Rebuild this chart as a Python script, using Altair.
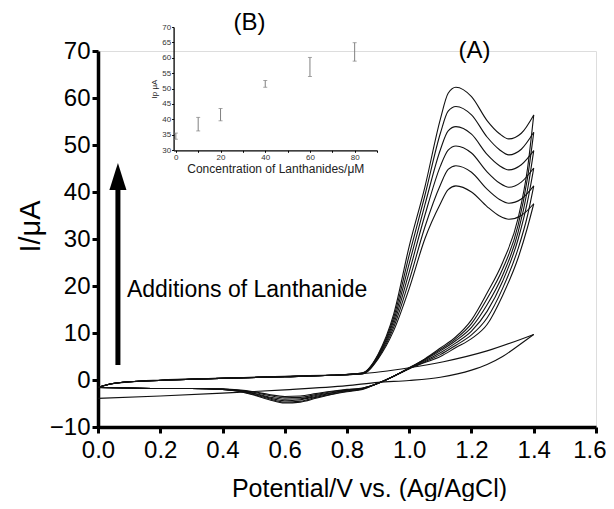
import altair as alt
import pandas as pd

FONT = "Liberation Sans"

# ---------------- main panel (A): cyclic voltammograms ----------------
FWD_V = [0.0, 0.03, 0.08, 0.15, 0.3, 0.45, 0.6, 0.75, 0.85, 0.9, 0.95, 1.0, 1.05,
         1.1, 1.125, 1.15, 1.2, 1.25, 1.29, 1.32, 1.36, 1.4]
FWD_1 = [-1.6, -1.0, -0.5, -0.2, 0.15, 0.45, 0.7, 1.0, 1.3, 4.5, 10.5, 19.5, 30.0,
         37.5, 40.5, 41.3, 40.0, 36.9, 34.9, 34.2, 35.0, 37.5]
FWD_2 = [-1.6, -1.0, -0.5, -0.2, 0.15, 0.45, 0.7, 1.0, 1.35, 4.7, 11.2, 21.2, 32.5,
         41.5, 44.8, 45.6, 44.2, 40.6, 38.4, 37.6, 38.5, 41.3]
FWD_3 = [-1.6, -1.0, -0.5, -0.2, 0.15, 0.45, 0.7, 1.0, 1.4, 4.9, 11.9, 23.0, 35.0,
         45.5, 48.9, 49.8, 48.3, 44.3, 41.9, 41.0, 42.1, 45.1]
FWD_4 = [-1.6, -1.0, -0.5, -0.2, 0.15, 0.45, 0.7, 1.0, 1.45, 5.1, 12.6, 24.8, 37.2,
         49.0, 53.0, 53.9, 52.3, 48.0, 45.6, 44.7, 45.8, 48.8]
FWD_5 = [-1.6, -1.0, -0.5, -0.2, 0.15, 0.45, 0.7, 1.0, 1.5, 5.3, 13.3, 26.6, 39.2,
         52.5, 57.2, 58.2, 56.4, 51.7, 49.0, 47.9, 49.1, 52.7]
FWD_6 = [-1.6, -1.0, -0.5, -0.2, 0.15, 0.45, 0.7, 1.0, 1.55, 5.5, 14.0, 28.5, 41.0,
         55.5, 61.0, 62.3, 60.3, 55.2, 52.4, 51.3, 52.5, 56.4]

REV_V = [1.4, 1.38, 1.35, 1.3, 1.25, 1.2, 1.15, 1.1, 1.05, 1.0, 0.95, 0.9, 0.85,
         0.8, 0.75, 0.7, 0.65, 0.6, 0.55, 0.5, 0.45, 0.4, 0.3, 0.2, 0.1, 0.0]
REV_1 = [37.5, 32.5, 26.0, 18.0, 11.8, 8.8, 6.9, 5.0, 3.7, 2.4, 0.8, -0.7, -1.7,
         -2.0, -2.4, -2.9, -3.4, -3.5, -3.1, -2.5, -2.1, -1.9, -1.8, -1.8, -1.7, -1.6]
REV_2 = [41.3, 35.0, 28.0, 19.5, 13.2, 9.6, 7.4, 5.4, 3.9, 2.4, 0.8, -0.7, -1.75,
         -2.1, -2.5, -3.1, -3.7, -3.8, -3.3, -2.6, -2.2, -1.95, -1.8, -1.8, -1.7, -1.6]
REV_3 = [45.1, 38.0, 30.0, 21.0, 14.6, 10.4, 7.9, 5.8, 4.1, 2.5, 0.8, -0.7, -1.8,
         -2.2, -2.7, -3.3, -4.0, -4.1, -3.6, -2.8, -2.25, -1.95, -1.8, -1.8, -1.7, -1.6]
REV_4 = [48.8, 40.5, 31.5, 22.3, 16.0, 11.2, 8.4, 6.2, 4.3, 2.5, 0.8, -0.7, -1.85,
         -2.3, -2.8, -3.5, -4.2, -4.4, -3.8, -2.9, -2.3, -2.0, -1.8, -1.8, -1.7, -1.6]
REV_5 = [52.7, 43.0, 33.0, 23.6, 17.3, 12.0, 8.8, 6.5, 4.4, 2.6, 0.8, -0.7, -1.9,
         -2.4, -3.0, -3.7, -4.5, -4.7, -4.0, -3.1, -2.35, -2.0, -1.8, -1.8, -1.7, -1.6]
REV_6 = [56.4, 45.0, 34.5, 25.0, 18.5, 12.8, 9.2, 6.8, 4.5, 2.6, 0.8, -0.7, -2.0,
         -2.5, -3.1, -3.9, -4.7, -4.9, -4.2, -3.2, -2.4, -2.0, -1.8, -1.8, -1.7, -1.6]

BLANK_FWD_V = [0.0, 0.03, 0.1, 0.2, 0.4, 0.6, 0.84, 1.0, 1.11, 1.25, 1.4]
BLANK_FWD_I = [-1.6, -1.0, -0.4, 0.0, 0.4, 0.8, 1.3, 2.6, 3.9, 6.2, 9.7]
BLANK_REV_V = [1.4, 1.35, 1.3, 1.25, 1.2, 1.1, 1.0, 0.9, 0.8, 0.6, 0.4, 0.2, 0.0]
BLANK_REV_I = [9.7, 7.3, 5.0, 3.3, 2.1, 0.6, -0.1, -0.5, -1.2, -2.1, -2.8, -3.4, -3.9]

X_TICKS = [0.0, 0.1, 0.2, 0.3, 0.4, 0.5, 0.6, 0.7, 0.8, 0.9, 1.0, 1.1, 1.2, 1.3,
           1.4, 1.5, 1.6]
Y_TICKS = [-10, -5, 0, 5, 10, 15, 20, 25, 30, 35, 40, 45, 50, 55, 60, 65, 70]

# annotations (data coordinates of panel A)
ARROW_V = 0.064
ARROW_BOTTOM = 3.2
ARROW_TOP = 41.0
ARROW_HEAD = 43.3
LABEL_TEXT = "Additions of Lanthanide"
LABEL_POS = (0.093, 17.7)
A_POS = (1.21, 68.6)
B_POS = (0.487, 74.5)

# ---------------- inset (B) ----------------
B_CONC = [0, 10, 20, 40, 60, 80]
B_MEAN = [34.5, 38.4, 41.5, 51.5, 57.0, 61.9]
B_ERR = [1.0, 2.2, 2.0, 1.1, 3.1, 3.0]
B_XTICKS = [0, 10, 20, 30, 40, 50, 60, 70, 80, 90]
B_YTICKS = [30, 35, 40, 45, 50, 55, 60, 65, 70]

# ---------------- build tables ----------------
series = [
    ("f1", FWD_V, FWD_1), ("f2", FWD_V, FWD_2), ("f3", FWD_V, FWD_3),
    ("f4", FWD_V, FWD_4), ("f5", FWD_V, FWD_5), ("f6", FWD_V, FWD_6),
    ("r1", REV_V, REV_1), ("r2", REV_V, REV_2), ("r3", REV_V, REV_3),
    ("r4", REV_V, REV_4), ("r5", REV_V, REV_5), ("r6", REV_V, REV_6),
    ("bf", BLANK_FWD_V, BLANK_FWD_I), ("br", BLANK_REV_V, BLANK_REV_I),
]
rows = []
for name, vs, cs in series:
    for v, c in zip(vs, cs):
        rows.append({"series": name, "V": v, "I": c})
cv = pd.DataFrame(rows)

xscale = alt.Scale(domain=[0, 1.6], nice=False, zero=False)
yscale = alt.Scale(domain=[-10, 70], nice=False, zero=False)

xaxis = alt.Axis(
    values=X_TICKS,
    labelExpr="round(datum.value*10) % 2 === 0 ? format(datum.value, '.1f') : ''",
    tickSize={"condition": {"test": "round(datum.value*10) % 2 === 0", "value": 6}, "value": 3},
    labelAlign={"condition": {"test": "datum.value > 1.55", "value": "right"}, "value": "center"},
    labelOffset={"condition": {"test": "datum.value > 1.55", "value": 10}, "value": 0},
    tickWidth=3, tickColor="black", domainWidth=3.5, domainColor="black",
    labelFont=FONT, labelFontSize=24, labelColor="black", labelPadding=5,
    labelOverlap=False, labelFlush=False, grid=False,
    title="Potential/V vs. (Ag/AgCl)", titleFont=FONT, titleFontSize=25,
    titleFontWeight="normal", titleColor="black",
    titleX=271, titleY=69, titleBaseline="alphabetic", titleAlign="center",
)
yaxis = alt.Axis(
    values=Y_TICKS,
    labelExpr="datum.value % 10 === 0 ? format(datum.value, 'd') : ''",
    tickSize={"condition": {"test": "datum.value % 10 === 0", "value": 6}, "value": 3},
    tickWidth=3, tickColor="black", domainWidth=3.5, domainColor="black",
    labelFont=FONT, labelFontSize=24, labelColor="black", labelPadding=2,
    labelOverlap=False, labelFlush=False, grid=False,
    title="I/μA", titleFont=FONT, titleFontSize=29, titleFontWeight="normal",
    titleColor="black", titleX=-68, titleY=175, titleBaseline="middle",
    titleAlign="center", titleAngle=270,
)

curves = alt.Chart(cv).mark_line(
    interpolate="monotone", color="#111111", strokeWidth=1.1
).encode(
    x=alt.X("V:Q", scale=xscale, axis=xaxis),
    y=alt.Y("I:Q", scale=yscale, axis=yaxis),
    detail="series:N",
)

arrow_df = pd.DataFrame({"V": [ARROW_V], "I": [ARROW_BOTTOM], "I2": [ARROW_TOP]})
arrow_rule = alt.Chart(arrow_df).mark_rule(color="black", strokeWidth=5).encode(
    x=alt.X("V:Q", scale=xscale), y=alt.Y("I:Q", scale=yscale), y2="I2:Q"
)
head_df = pd.DataFrame({"V": [ARROW_V], "I": [ARROW_HEAD]})
arrow_head = alt.Chart(head_df).mark_point(
    shape="M0,-1L0.63,1L-0.63,1Z", size=729, filled=True, color="black",
    opacity=1, strokeWidth=0,
).encode(x=alt.X("V:Q", scale=xscale), y=alt.Y("I:Q", scale=yscale))

txt_df = pd.DataFrame({
    "V": [LABEL_POS[0], A_POS[0], B_POS[0]],
    "I": [LABEL_POS[1], A_POS[1], B_POS[1]],
    "t": [LABEL_TEXT, "(A)", "(B)"],
})
label_txt = alt.Chart(txt_df.iloc[[0]]).mark_text(
    font=FONT, fontSize=23, align="left", baseline="alphabetic", color="black"
).encode(x=alt.X("V:Q", scale=xscale), y=alt.Y("I:Q", scale=yscale), text="t:N")
ab_txt = alt.Chart(txt_df.iloc[[1, 2]]).mark_text(
    font=FONT, fontSize=24, align="center", baseline="alphabetic", color="black"
).encode(x=alt.X("V:Q", scale=xscale), y=alt.Y("I:Q", scale=yscale), text="t:N")

main = alt.layer(curves, arrow_rule, arrow_head, label_txt, ab_txt)

# inset
ins = pd.DataFrame({
    "conc": B_CONC,
    "lo": [m - e for m, e in zip(B_MEAN, B_ERR)],
    "hi": [m + e for m, e in zip(B_MEAN, B_ERR)],
})
caps = pd.DataFrame({
    "conc": B_CONC + B_CONC,
    "lo": list(ins["lo"]) + list(ins["hi"]),
})
ix = alt.Scale(domain=[-1, 90], range=[75.6, 279], nice=False, zero=False)
iy = alt.Scale(domain=[30, 70], range=[99, -24], nice=False, zero=False)

ixaxis = alt.Axis(
    orient="bottom", offset=-276.7, values=B_XTICKS,
    labelExpr="datum.value % 20 === 0 && datum.value <= 80 ? datum.label : ''",
    tickSize=2, tickWidth=1, tickColor="black", domainWidth=1.3, domainColor="black",
    labelFont=FONT, labelFontSize=8, labelColor="#333333", labelPadding=1,
    labelOverlap=False, grid=False,
    title="Concentration of Lanthanides/μM", titleFont=FONT, titleFontSize=12,
    titleFontWeight="normal", titleColor="#222222", titlePadding=2,
)
iyaxis = alt.Axis(
    orient="left", offset=-75.6, values=B_YTICKS,
    tickSize=2, tickWidth=1, tickColor="black", domainWidth=1.3, domainColor="black",
    labelFont=FONT, labelFontSize=8, labelColor="#333333", labelPadding=1,
    labelOverlap=False, grid=False,
    title="Ip μA", titleFont=FONT, titleFontSize=8, titleFontWeight="normal",
    titleColor="#222222", titlePadding=3,
)

bars = alt.Chart(ins).mark_rule(color="#808080", strokeWidth=1).encode(
    x=alt.X("conc:Q", scale=ix, axis=ixaxis),
    y=alt.Y("lo:Q", scale=iy, axis=iyaxis),
    y2="hi:Q",
)
cap_marks = alt.Chart(caps).mark_tick(
    color="#808080", thickness=1, size=4, orient="horizontal"
).encode(
    x=alt.X("conc:Q", scale=ix, axis=ixaxis),
    y=alt.Y("lo:Q", scale=iy, axis=iyaxis),
)
inset = alt.layer(bars, cap_marks)

chart = alt.layer(main, inset).resolve_scale(
    x="independent", y="independent"
).resolve_axis(
    x="independent", y="independent"
).properties(
    width=498, height=376,
    padding={"left": 90, "top": 43, "right": 10, "bottom": 74},
    autosize="none",
).configure_view(stroke=None).configure(background="white")

chart.save("out.html", embed_options={"renderer": "svg", "actions": False})
